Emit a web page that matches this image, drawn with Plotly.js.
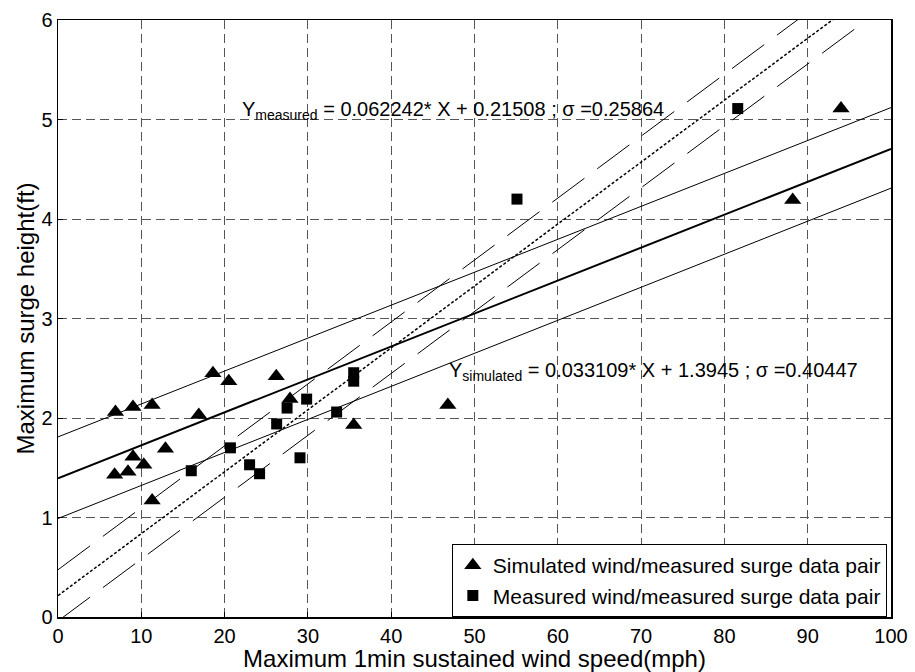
<!DOCTYPE html>
<html>
<head>
<meta charset="utf-8">
<script src="https://cdn.plot.ly/plotly-3.0.1.min.js"></script>
<style>html,body{margin:0;padding:0;background:#fff;}#chart{width:915px;height:672px;}</style>
</head>
<body>
<div id="chart"></div>
<script>
// Simulated wind / measured surge data pairs (triangles)
var simWind  = [6.9, 9.0, 11.3, 18.6, 20.5, 26.2, 16.9, 27.85, 35.5, 46.8, 12.9, 9.0, 10.3, 6.8, 8.4, 11.3, 88.2, 94.0];
var simSurge = [2.06, 2.11, 2.13, 2.45, 2.37, 2.42, 2.03, 2.19, 1.93, 2.13, 1.69, 1.61, 1.53, 1.43, 1.46, 1.17, 4.19, 5.11];

// Measured wind / measured surge data pairs (squares)
var measWind  = [16.0, 20.7, 23.0, 24.2, 26.25, 27.5, 29.85, 29.05, 33.45, 35.5, 35.5, 55.1, 81.6];
var measSurge = [1.47, 1.70, 1.53, 1.44, 1.94, 2.10, 2.19, 1.60, 2.06, 2.455, 2.37, 4.20, 5.11];

// Regression lines and +/- sigma bands (values at the ends of the x range)
var fitX       = [0, 100];
var simFitY    = [1.3945, 4.7054];
var simUpperY  = [1.81, 5.12];
var simLowerY  = [0.99, 4.31];
var measFitY   = [0.215, 6.439];
var measUpperY = [0.475, 6.70];
var measLowerY = [-0.04, 6.18];

var xTicks = [0, 10, 20, 30, 40, 50, 60, 70, 80, 90, 100];
var yTicks = [0, 1, 2, 3, 4, 5, 6];

var simLabel  = 'Y<sub>simulated</sub> = 0.033109* X + 1.3945 ; \u03c3 =0.40447';
var measLabel = 'Y<sub>measured</sub> = 0.062242* X + 0.21508 ; \u03c3 =0.25864';

var FONT = 'Liberation Sans, Arial, Helvetica, sans-serif';

function line(y, w, dash) {
  return {x: fitX, y: y, mode: 'lines', type: 'scatter', showlegend: false, hoverinfo: 'skip',
          line: {color: '#000', width: w, dash: dash}};
}

var traces = [
  line(simLowerY, 1, 'solid'),
  line(simUpperY, 1, 'solid'),
  line(simFitY, 2, 'solid'),
  line(measLowerY, 1, '40px,16px'),
  line(measUpperY, 1, '40px,16px'),
  line(measFitY, 1.5, '3px,2px'),
  {x: simWind, y: simSurge, mode: 'markers', type: 'scatter',
   name: 'Simulated wind/measured surge data pair',
   marker: {symbol: 'triangle-up', size: 15, color: '#000'}},
  {x: measWind, y: measSurge, mode: 'markers', type: 'scatter',
   name: 'Measured wind/measured surge data pair',
   marker: {symbol: 'square', size: 11, color: '#000'}}
];

var axisCommon = {
  showline: true, linecolor: '#000', linewidth: 1.5, mirror: true,
  ticks: 'inside', ticklen: 5, tickcolor: '#000',
  showgrid: true, gridcolor: '#555', gridwidth: 1, griddash: '9px,5px',
  zeroline: false, tickfont: {family: FONT, size: 20, color: '#000'}
};

var layout = {
  width: 915, height: 672,
  margin: {l: 58, r: 24, t: 20, b: 55},
  paper_bgcolor: '#fff', plot_bgcolor: '#fff',
  font: {family: FONT, color: '#000'},
  xaxis: Object.assign({}, axisCommon, {
    range: [0, 100], tickvals: xTicks, ticktext: xTicks.map(String),
    title: {text: 'Maximum 1min sustained wind speed(mph)', font: {family: FONT, size: 24, color: '#000'}, standoff: 0}
  }),
  yaxis: Object.assign({}, axisCommon, {
    range: [0, 6], tickvals: yTicks, ticktext: yTicks.map(String),
    title: {text: 'Maximum surge height(ft)', font: {family: FONT, size: 24, color: '#000'}, standoff: 0}
  }),
  legend: {
    x: 0.995, y: 0.0, xanchor: 'right', yanchor: 'bottom',
    bgcolor: '#fff', bordercolor: '#000', borderwidth: 1,
    font: {family: FONT, size: 21, color: '#000'}, tracegroupgap: 0
  },
  annotations: [
    {xref: 'x', yref: 'y', x: 21.9, y: 5.09, xanchor: 'left', yanchor: 'middle', showarrow: false,
     text: measLabel, font: {family: FONT, size: 20, color: '#000'}},
    {xref: 'x', yref: 'y', x: 46.7, y: 2.47, xanchor: 'left', yanchor: 'middle', showarrow: false,
     text: simLabel, font: {family: FONT, size: 20, color: '#000'}}
  ],
  showlegend: true
};

Plotly.newPlot('chart', traces, layout, {displayModeBar: false, staticPlot: true});
</script>
</body>
</html>
